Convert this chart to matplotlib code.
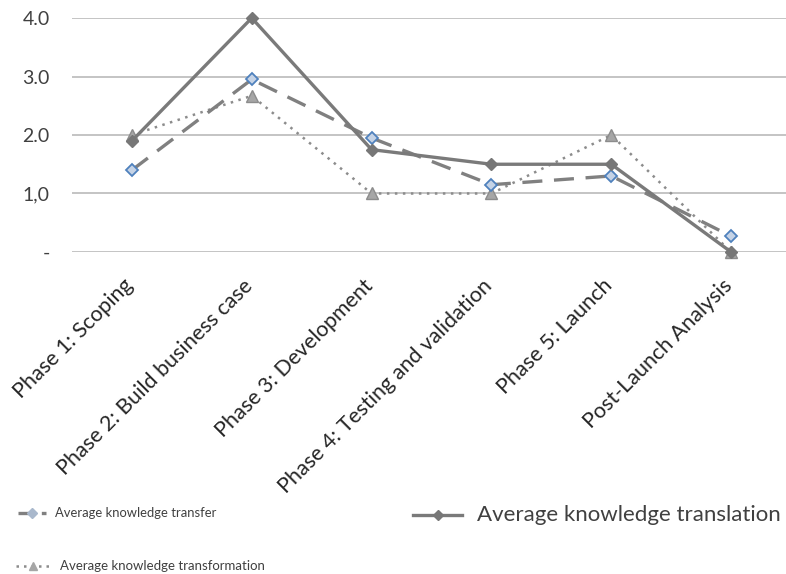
import matplotlib
matplotlib.use("Agg")
import matplotlib.pyplot as plt
from matplotlib.lines import Line2D
from matplotlib.transforms import ScaledTranslation

phases = [
    "Phase 1: Scoping",
    "Phase 2: Build business case",
    "Phase 3: Development",
    "Phase 4: Testing and validation",
    "Phase 5: Launch",
    "Post-Launch Analysis",
]
knowledge_transfer = [1.4, 2.95, 1.95, 1.15, 1.3, 0.27]
knowledge_translation = [1.9, 4.0, 1.75, 1.5, 1.5, 0.0]
knowledge_transformation = [2.0, 2.67, 1.0, 1.0, 2.0, 0.0]
y_ticks = [0, 1, 2, 3, 4]
y_tick_labels = ["-", "1,0", "2.0", "3.0", "4.0"]

plt.rcParams["font.family"] = ["Lato", "DejaVu Sans"]

fig = plt.figure(figsize=(7.86, 5.74), dpi=100)
ax = fig.add_axes([72 / 786, 1 - 252 / 574, 719 / 786, 234 / 574])

x = list(range(len(phases)))
line_col = "#808080"

ax.plot(x, knowledge_transformation, color="#8c8c8c", lw=1.8, ls=(0, (1, 2.2)),
        marker="^", ms=8, mfc="#a6a6a6", mec="#8c8c8c", zorder=3, clip_on=False)
ax.plot(x, knowledge_transfer, color=line_col, lw=2.4, ls=(0, (6, 3.5)),
        marker="D", ms=6, mfc="#c5d3e6", mec="#4f81bd", mew=1.3, zorder=4,
        clip_on=False)
ax.plot(x, knowledge_translation, color="#7a7a7a", lw=2.4, ls="-",
        marker="D", ms=6, mfc="#777777", mec="#777777", zorder=5, clip_on=False)

ax.set_xlim(-0.5, 5.5)
ax.set_ylim(0, 4)
ax.set_yticks(y_ticks)
ax.set_yticklabels(y_tick_labels, fontsize=14, color="#404040")
ax.yaxis.grid(True, color="#c4c4c4", lw=1.4)
ax.set_axisbelow(True)
ax.tick_params(axis="y", length=0, pad=16)
ax.tick_params(axis="x", length=0, pad=14)
ax.set_xticks(x)
ax.set_xticklabels(phases, rotation=45, ha="right", rotation_mode="anchor",
                   fontsize=15.5, color="#262626")
shift = ScaledTranslation(-0.09, -0.04, fig.dpi_scale_trans)
for lbl in ax.get_xticklabels():
    lbl.set_transform(lbl.get_transform() + shift)
for s in ax.spines.values():
    s.set_visible(False)


def fpx(px, py):
    """Pixel position (from top-left) to figure fraction."""
    return px / 786, 1 - py / 574


def sample(x0, x1, y, line_kw, mark_kw):
    (a, b), (c, d) = fpx(x0, y), fpx(x1, y)
    fig.add_artist(Line2D([a, c], [b, d], transform=fig.transFigure, **line_kw))
    mx, my = fpx((x0 + x1) / 2, y)
    fig.add_artist(Line2D([mx], [my], transform=fig.transFigure, ls="none",
                          **mark_kw))


sample(18, 46, 513, dict(color=line_col, lw=2.4, ls=(0, (4, 3))),
       dict(marker="D", ms=5, mfc="#a9b8cc", mec="#a9b8cc"))
fig.text(*fpx(55, 513), "Average knowledge transfer", fontsize=9.4,
         color="#404040", va="center")
sample(413, 462, 515, dict(color="#7a7a7a", lw=2.4, ls="-"),
       dict(marker="D", ms=5, mfc="#777777", mec="#777777"))
fig.text(*fpx(477, 515), "Average knowledge translation", fontsize=16,
         color="#404040", va="center")
sample(16, 50, 566, dict(color="#8c8c8c", lw=1.8, ls=(0, (1, 2))),
       dict(marker="^", ms=6, mfc="#a6a6a6", mec="#a6a6a6"))
fig.text(*fpx(60, 566), "Average knowledge transformation", fontsize=9.5,
         color="#404040", va="center")

fig.savefig("out.png", dpi=100)
